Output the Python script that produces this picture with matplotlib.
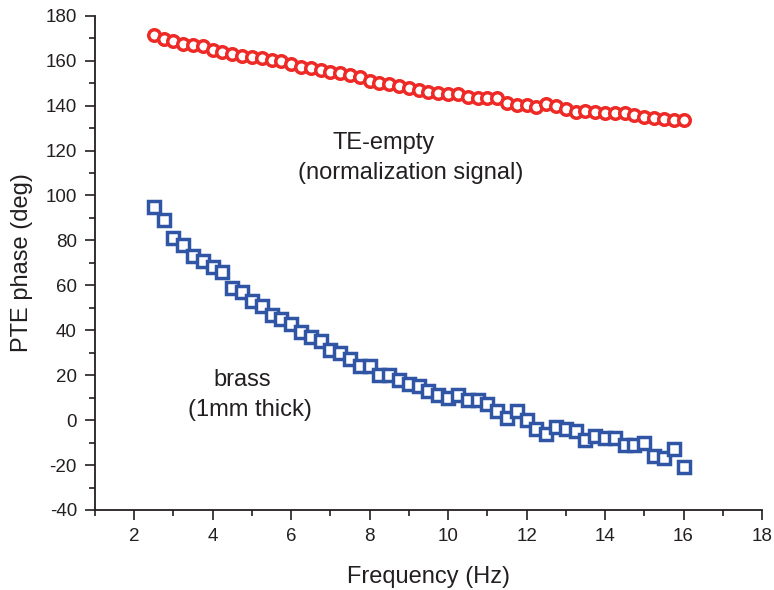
import numpy as np
import matplotlib
matplotlib.use("Agg")
import matplotlib.pyplot as plt
from matplotlib.ticker import MultipleLocator

plt.rcParams['font.family'] = ['Liberation Sans', 'DejaVu Sans']
plt.rcParams['axes.unicode_minus'] = False

freq = [2.5 + 0.25 * i for i in range(55)]

te_empty = [171.3, 169.8, 168.6, 167.6, 166.8, 166.4, 164.7, 163.7, 162.8, 162.2,
            161.8, 161.0, 160.3, 159.8, 158.3, 157.3, 156.6, 155.8, 155.1, 154.4,
            153.6, 152.5, 151.0, 150.2, 149.8, 148.5, 147.7,
            146.9, 146.2, 145.5, 145.2, 145.2, 144.0, 143.2, 143.2, 143.2, 141.0,
            140.3, 140.3, 139.5, 140.6, 139.8, 138.3, 137.3, 137.7, 137.3, 136.6,
            136.6, 136.6, 135.8, 135.0, 134.3, 133.9, 133.6, 133.6]

brass = [95, 89, 81, 78, 73, 71, 68, 66, 59, 57,
         53, 51, 47, 45, 43, 39, 37, 35, 31, 30,
         27, 24, 24, 20, 20, 18, 16, 15, 13, 11,
         10, 11, 9, 9, 7, 4, 1, 4, 0, -4,
         -6, -3, -4, -5, -9, -7, -8, -8, -11, -11,
         -10, -16, -17, -13, -21]

fig = plt.figure(figsize=(7.74, 5.9), dpi=100)
ax = fig.add_axes([0.1227, 0.1356, 0.8618, 0.8378])

ax.plot(freq, te_empty, 'o', markersize=8.3, markerfacecolor='white',
        markeredgecolor='#ee2a26', markeredgewidth=2.5, linestyle='none')
ax.plot(freq, brass, 's', markersize=8.0, markerfacecolor='white',
        markeredgecolor='#2f55a4', markeredgewidth=2.5, linestyle='none')

ax.text(8.35, 123.3, 'TE-empty', fontsize=17, ha='center', va='center', color='#231f20')
ax.text(9.05, 110, '(normalization signal)', fontsize=17, ha='center', va='center', color='#231f20')
ax.text(4.75, 17.9, 'brass', fontsize=17, ha='center', va='center', color='#231f20')
ax.text(4.95, 4.5, '(1mm thick)', fontsize=17, ha='center', va='center', color='#231f20')

ax.set_xlim(1, 18)
ax.set_ylim(-40, 180)
ax.xaxis.set_major_locator(MultipleLocator(2))
ax.xaxis.set_minor_locator(MultipleLocator(1))
ax.yaxis.set_major_locator(MultipleLocator(20))
ax.yaxis.set_minor_locator(MultipleLocator(10))
ax.set_xticks(np.arange(2, 19, 2))

ax.spines['top'].set_visible(False)
ax.spines['right'].set_visible(False)
for s in ['left', 'bottom']:
    ax.spines[s].set_linewidth(1.3)
    ax.spines[s].set_color('#231f20')

ax.tick_params(which='major', direction='out', length=7, width=1.2, labelsize=13.5,
               colors='#231f20', pad=6)
ax.tick_params(which='minor', direction='out', length=4, width=1.2, colors='#231f20')

ax.set_xlabel('Frequency (Hz)', fontsize=17, color='#231f20', labelpad=15)
ax.set_ylabel('PTE phase (deg)', fontsize=17, color='#231f20', labelpad=9)

fig.savefig('out.png', dpi=100)
